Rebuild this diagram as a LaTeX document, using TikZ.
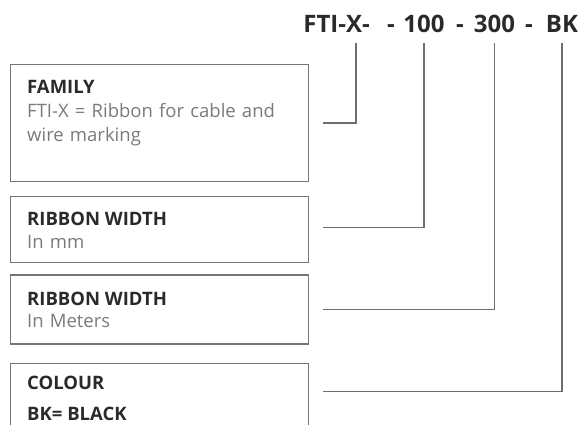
\documentclass[tikz,border=0pt]{standalone}
\usepackage{fontspec}
\setmainfont{Open Sans}
\usetikzlibrary{positioning}

\definecolor{boxgray}{HTML}{767676}
\definecolor{linegray}{HTML}{6E6E6E}
\definecolor{titledark}{HTML}{2A2A2A}
\definecolor{subgray}{HTML}{7A7A7A}

\begin{document}
\begin{tikzpicture}[
    x=1pt, y=1pt,
    box/.style={rectangle, draw=boxgray, line width=1.2pt, minimum width=298pt, inner sep=0pt, anchor=north west},
    head/.style={anchor=base west, inner sep=0pt, text=titledark, font=\bfseries\fontsize{18.5}{22}\selectfont},
    sub/.style={anchor=base west, inner sep=0pt, text=subgray, text width=275pt, align=left, font=\fontsize{18.5}{24}\selectfont},
    code/.style={anchor=base, inner sep=0pt, text=titledark, font=\bfseries\fontsize{24}{28}\selectfont},
    link/.style={draw=linegray, line width=1.2pt}
]
\useasboundingbox (0,0) rectangle (583,425);

% part number
\node[code, anchor=base east] (fam) at (370,392) {FTI-X-};
\node[code] (dash1) at (391,392) {-};
\node[code] (n100) at (424,392) {100};
\node[code] (dash2) at (460,392) {-};
\node[code] (n300) at (494.5,392) {300};
\node[code] (dash3) at (529,392) {-};
\node[code] (nBK) at (562,392) {BK};

% boxes
\node[box, minimum height=117pt] (family) at (10,361) {};
\node[box, minimum height=66pt, below=14pt of family] (wid) {};
\node[box, minimum height=69pt, below=11pt of wid] (len) {};
\node[box, minimum height=90pt, below=18pt of len] (colour) {};

\node[head] (familyT) at ([xshift=17pt,yshift=-30pt]family.north west) {FAMILY};
\node[sub] (familyS) at ([yshift=-24pt]familyT.base west) {FTI-X = Ribbon for cable and\\wire marking};
\node[head] (widT) at ([xshift=17pt,yshift=-29pt]wid.north west) {RIBBON WIDTH};
\node[sub] (widS) at ([yshift=-23pt]widT.base west) {In mm};
\node[head] (lenT) at ([xshift=17pt,yshift=-31pt]len.north west) {RIBBON WIDTH};
\node[sub] (lenS) at ([yshift=-22pt]lenT.base west) {In Meters};
\node[head] (colourT) at ([xshift=17pt,yshift=-27pt]colour.north west) {COLOUR};
\node[head] (colourS) at ([yshift=-31pt]colourT.base west) {BK= BLACK};

% connectors
\draw[link] ([xshift=14pt]family.east) -| ([xshift=-14pt,yshift=-10pt]fam.base east);
\draw[link] ([xshift=14pt,yshift=2pt]wid.east) -| ([yshift=-10pt]n100.base);
\draw[link] ([xshift=14pt]len.east) -| ([yshift=-10pt]n300.base);
\draw[link] ([xshift=14pt,yshift=-29pt]colour.north east) -| ([yshift=-10pt]nBK.base);

\end{tikzpicture}
\end{document}
